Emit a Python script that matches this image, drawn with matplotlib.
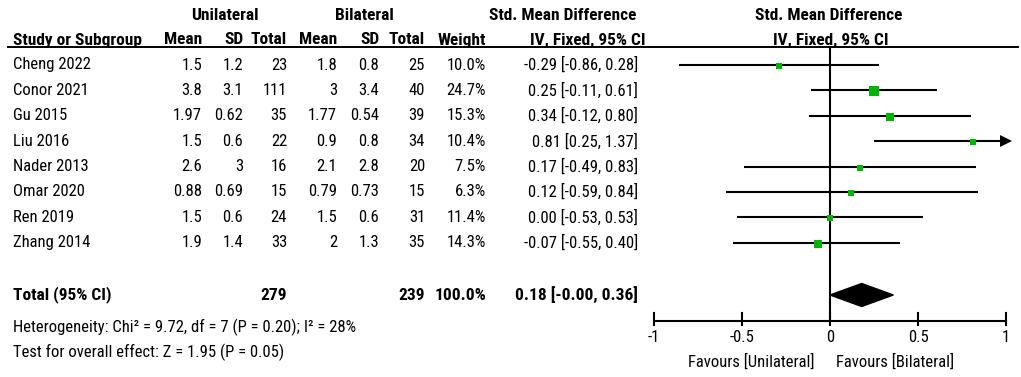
import matplotlib
matplotlib.use('Agg')
import matplotlib.pyplot as plt

# narrow sans, like the Arial Narrow of the original
plt.rcParams['font.family'] = ['Roboto Condensed', 'Liberation Sans', 'DejaVu Sans']

studies = ['Cheng 2022', 'Conor 2021', 'Gu 2015', 'Liu 2016', 'Nader 2013',
           'Omar 2020', 'Ren 2019', 'Zhang 2014']
uni_mean = [1.5, 3.8, 1.97, 1.5, 2.6, 0.88, 1.5, 1.9]
uni_sd = [1.2, 3.1, 0.62, 0.6, 3, 0.69, 0.6, 1.4]
uni_n = [23, 111, 35, 22, 16, 15, 24, 33]
bi_mean = [1.8, 3, 1.77, 0.9, 2.1, 0.79, 1.5, 2]
bi_sd = [0.8, 3.4, 0.54, 0.8, 2.8, 0.73, 0.6, 1.3]
bi_n = [25, 40, 39, 34, 20, 15, 31, 35]
weight = [10.0, 24.7, 15.3, 10.4, 7.5, 6.3, 11.4, 14.3]
smd = [-0.29, 0.25, 0.34, 0.81, 0.17, 0.12, 0.00, -0.07]
ci_lo = [-0.86, -0.11, -0.12, 0.25, -0.49, -0.59, -0.53, -0.55]
ci_hi = [0.28, 0.61, 0.80, 1.37, 0.83, 0.84, 0.53, 0.40]

total_uni = 279
total_bi = 239
total_w = 100.0
total_smd, total_lo, total_hi = 0.18, -0.0, 0.36
het_text = 'Heterogeneity: Chi\u00b2 = 9.72, df = 7 (P = 0.20); I\u00b2 = 28%'
test_text = 'Test for overall effect: Z = 1.95 (P = 0.05)'
ticks = [-1, -0.5, 0, 0.5, 1]
tick_labels = ['-1', '-0.5', '0', '0.5', '1']

W, H = 1021, 377
fig = plt.figure(figsize=(W / 100, H / 100), dpi=100)

# table part, pixel coords
tab = fig.add_axes([0, 0, 1, 1])
tab.set_xlim(0, W)
tab.set_ylim(H, 0)
tab.axis('off')

fs = 12
fsb = 12.5
green = '#00b400'

row0 = 65
step = 25.4
rows = [row0 + i * step for i in range(len(studies))]
y_total = 295
y_head1 = 15
y_head2 = 40
y_line = 47

# column right edges
c_um, c_usd, c_un = 202, 243, 287
c_bm, c_bsd, c_bn = 337, 379, 425
c_w, c_ci = 486, 638

tab.text(225, y_head1, 'Unilateral', fontsize=fsb, fontweight='bold', ha='center', va='center')
tab.text(364, y_head1, 'Bilateral', fontsize=fsb, fontweight='bold', ha='center', va='center')
tab.text(563, y_head1, 'Std. Mean Difference', fontsize=fsb, fontweight='bold', ha='center', va='center')
tab.text(829, y_head1, 'Std. Mean Difference', fontsize=fsb, fontweight='bold', ha='center', va='center')

tab.text(13, y_head2, 'Study or Subgroup', fontsize=fsb, fontweight='bold', ha='left', va='center')
for x, s in [(c_um, 'Mean'), (c_usd, 'SD'), (c_un, 'Total'), (c_bm, 'Mean'),
             (c_bsd, 'SD'), (c_bn, 'Total'), (c_w, 'Weight')]:
    tab.text(x, y_head2, s, fontsize=fsb, fontweight='bold', ha='right', va='center')
tab.text(588, y_head2, 'IV, Fixed, 95% CI', fontsize=fsb, fontweight='bold', ha='center', va='center')
tab.text(831, y_head2, 'IV, Fixed, 95% CI', fontsize=fsb, fontweight='bold', ha='center', va='center')
tab.plot([8, 1018], [y_line, y_line], color='black', lw=1.4)

for i, y in enumerate(rows):
    tab.text(13, y, studies[i], fontsize=fs, ha='left', va='center')
    vals = ['{:g}'.format(uni_mean[i]), '{:g}'.format(uni_sd[i]), str(uni_n[i]),
            '{:g}'.format(bi_mean[i]), '{:g}'.format(bi_sd[i]), str(bi_n[i]),
            '{:.1f}%'.format(weight[i]),
            '{:.2f} [{:.2f}, {:.2f}]'.format(smd[i], ci_lo[i], ci_hi[i])]
    for x, s in zip([c_um, c_usd, c_un, c_bm, c_bsd, c_bn, c_w, c_ci], vals):
        tab.text(x, y, s, fontsize=fs, ha='right', va='center')

tab.text(13, y_total, 'Total (95% CI)', fontsize=fsb, fontweight='bold', ha='left', va='center')
tab.text(c_un, y_total, str(total_uni), fontsize=fsb, fontweight='bold', ha='right', va='center')
tab.text(c_bn, y_total, str(total_bi), fontsize=fsb, fontweight='bold', ha='right', va='center')
tab.text(c_w, y_total, '{:.1f}%'.format(total_w), fontsize=fsb, fontweight='bold', ha='right', va='center')
tab.text(c_ci, y_total, '{:.2f} [{:.2f}, {:.2f}]'.format(total_smd, total_lo, total_hi),
         fontsize=fsb, fontweight='bold', ha='right', va='center')
tab.text(13, 327, het_text, fontsize=fs, ha='left', va='center')
tab.text(13, 352, test_text, fontsize=fs, ha='left', va='center')

# forest part
xmin = -1 - 14 / 176
xmax = 1 + 15 / 176
fx0 = 640
ax = fig.add_axes([fx0 / W, 0, (W - fx0) / W, 1])
ax.set_xlim(xmin, xmax)
ax.set_ylim(H, 0)
ax.axis('off')

y_axis = 321
ax.plot([0, 0], [y_line, y_axis], color='black', lw=1.5)

for i, y in enumerate(rows):
    lo = max(ci_lo[i], -1)
    hi = min(ci_hi[i], 1)
    ax.plot([lo, hi], [y, y], color='black', lw=1.5, solid_capstyle='butt')
    if ci_hi[i] > 1:
        ax.plot([1.0], [y], marker='>', color='black', markersize=8, markeredgewidth=0)
    side = 2.0 * weight[i] ** 0.5
    ax.plot([smd[i]], [y + 1], marker='s', color=green, markersize=side * 0.72,
            markeredgewidth=0, zorder=5)

# diamond
hh = 11.5
ax.fill([total_lo, total_smd, total_hi, total_smd],
        [y_total, y_total - hh, y_total, y_total + hh], color='black')

# axis
ax.plot([-1, 1], [y_axis, y_axis], color='black', lw=1.5)
for t, lab in zip(ticks, tick_labels):
    ax.plot([t, t], [313, 325], color='black', lw=1.5)
    ax.text(t, 338, lab, fontsize=fs, ha='center', va='center')
ax.text(-0.09, 362, 'Favours [Unilateral]', fontsize=fs, ha='right', va='center')
ax.text(0.035, 362, 'Favours [Bilateral]', fontsize=fs, ha='left', va='center')

fig.savefig('out.png', dpi=100)
